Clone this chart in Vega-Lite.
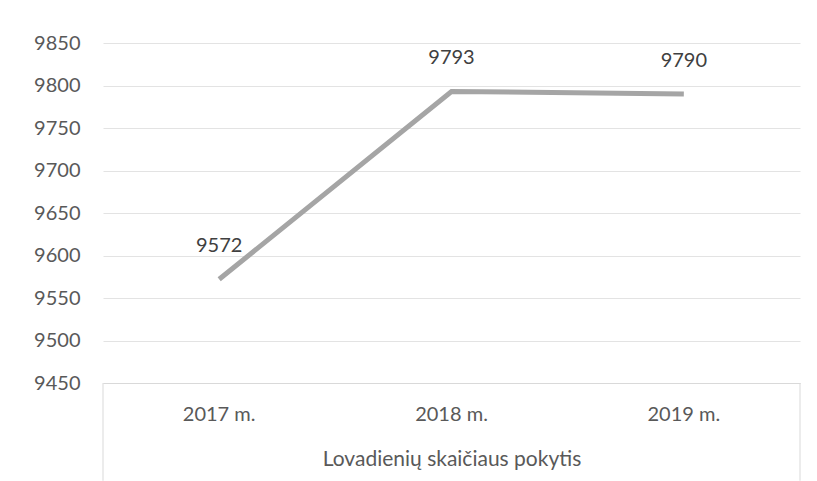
{
  "$schema": "https://vega.github.io/schema/vega-lite/v6.json",
  "width": 697,
  "height": 340,
  "autosize": {"type": "none"},
  "padding": {"left": 103, "top": 43, "right": 17, "bottom": 98},
  "background": "white",
  "config": {
    "view": {"stroke": null},
    "font": "Lato"
  },
  "data": {
    "values": [
      {"year": "2017 m.", "value": 9572},
      {"year": "2018 m.", "value": 9793},
      {"year": "2019 m.", "value": 9790}
    ]
  },
  "encoding": {
    "x": {
      "field": "year",
      "type": "nominal",
      "scale": {"type": "band", "paddingInner": 0, "paddingOuter": 0},
      "axis": {
        "title": "Lovadienių  skaičiaus pokytis",
        "labelAngle": 0,
        "labelFontSize": 20,
        "labelColor": "#595959",
        "labelPadding": 21,
        "titleFontSize": 21,
        "titleFontWeight": "normal",
        "titleColor": "#595959",
        "titlePadding": 24,
        "ticks": false,
        "domainColor": "#d9d9d9",
        "domainWidth": 1,
        "grid": false
      }
    },
    "y": {
      "field": "value",
      "type": "quantitative",
      "scale": {"domain": [9450, 9850], "nice": false, "zero": false},
      "axis": {
        "title": null,
        "format": "d",
        "values": [9450, 9500, 9550, 9600, 9650, 9700, 9750, 9800, 9850],
        "labelFontSize": 20,
        "labelColor": "#595959",
        "labelPadding": 23,
        "ticks": false,
        "domain": false,
        "gridColor": "#e3e3e3",
        "gridWidth": 1
      }
    }
  },
  "layer": [
    {
      "mark": {"type": "rule", "color": "#d9d9d9", "strokeWidth": 1, "clip": false},
      "transform": [{"filter": "datum.year === '2017 m.'"}],
      "encoding": {
        "x": {"field": "year", "type": "nominal", "bandPosition": 0},
        "y": {"datum": 9450},
        "y2": {"datum": 9335}
      }
    },
    {
      "mark": {"type": "rule", "color": "#d9d9d9", "strokeWidth": 1, "clip": false},
      "transform": [{"filter": "datum.year === '2019 m.'"}],
      "encoding": {
        "x": {"field": "year", "type": "nominal", "bandPosition": 1},
        "y": {"datum": 9450},
        "y2": {"datum": 9335}
      }
    },
    {
      "mark": {"type": "line", "color": "#a5a5a5", "strokeWidth": 5}
    },
    {
      "mark": {"type": "text", "dy": -33, "fontSize": 20, "color": "#404040"},
      "encoding": {
        "text": {"field": "value", "type": "quantitative", "format": "d"}
      }
    }
  ]
}
